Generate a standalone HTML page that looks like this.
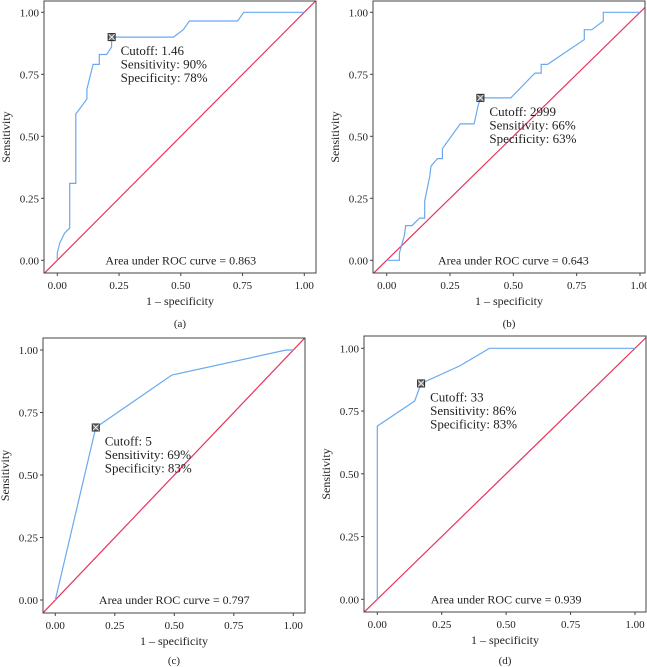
<!DOCTYPE html>
<html><head><meta charset="utf-8"><style>
body{margin:0;background:#fff;}
svg{display:block;font-family:"Liberation Serif",serif;}
</style></head><body>
<svg id="chart" width="647" height="667"></svg>
<script>
const ticks = [0, 0.25, 0.5, 0.75, 1];
const tickLabels = ["0.00", "0.25", "0.50", "0.75", "1.00"];
const panelLabels = ["(a)", "(b)", "(c)", "(d)"];
const aucValues = ["0.863", "0.643", "0.797", "0.939"];
const cutoffs = ["1.46", "2999", "5", "33"];
const sensLabels = ["90%", "66%", "69%", "86%"];
const specLabels = ["78%", "63%", "83%", "83%"];
const rocA_x = [0,0,0.01,0.03,0.05,0.05,0.075,0.075,0.12,0.12,0.145,0.17,0.17,0.2,0.22,0.22,0.47,0.51,0.535,0.73,0.755,1];
const rocA_y = [0,0.03,0.07,0.11,0.13,0.31,0.31,0.59,0.65,0.69,0.79,0.79,0.83,0.83,0.86,0.9,0.9,0.93,0.965,0.965,1,1];
const rocB_x = [0,0.05,0.05,0.07,0.075,0.1,0.13,0.15,0.15,0.17,0.175,0.2,0.22,0.22,0.29,0.345,0.36,0.37,0.49,0.585,0.61,0.61,0.635,0.78,0.78,0.81,0.855,0.855,1];
const rocB_y = [0,0,0.03,0.1,0.14,0.14,0.17,0.17,0.24,0.34,0.38,0.41,0.41,0.45,0.55,0.55,0.62,0.655,0.655,0.755,0.755,0.79,0.79,0.89,0.93,0.93,0.965,1,1];
const rocC_x = [0,0.17,0.49,0.97,1];
const rocC_y = [0,0.69,0.9,1,1];
const rocD_x = [0,0,0.145,0.17,0.32,0.435,1];
const rocD_y = [0,0.69,0.79,0.86,0.93,1,1];
const cutX = [0.22, 0.37, 0.17, 0.17];
const cutY = [0.9, 0.655, 0.69, 0.86];

const layouts = [
 {L:44,R:316,T:1,B:273,x0:57.3,x1:304.3,y0:260.3,y1:12.3,cy:323},
 {L:373,R:645,T:1,B:273,x0:386.7,x1:640,y0:260.3,y1:12.3,cy:323},
 {L:43,R:305,T:338,B:613,x0:55.3,x1:293.3,y0:600,y1:350,cy:660},
 {L:364,R:646,T:336,B:612,x0:377.3,x1:635,y0:599.3,y1:348.3,cy:660}
];
const series = [[rocA_x,rocA_y],[rocB_x,rocB_y],[rocC_x,rocC_y],[rocD_x,rocD_y]];
const NS="http://www.w3.org/2000/svg";
const svg=document.getElementById('chart');
function mk(tag,attrs,parent,txt){const e=document.createElementNS(NS,tag);for(const k in attrs)e.setAttribute(k,attrs[k]);if(txt!==undefined)e.textContent=txt;(parent||svg).appendChild(e);return e;}

layouts.forEach((p,i)=>{
 const sx=v=>p.x0+v*(p.x1-p.x0), sy=v=>p.y0+v*(p.y1-p.y0);
 const g=mk('g',{});
 
 
 const cid='clip'+i;
 const cp=mk('clipPath',{id:cid},g); mk('rect',{x:p.L,y:p.T,width:p.R-p.L,height:p.B-p.T},cp);
 const xmin=(p.L-p.x0)/(p.x1-p.x0), xmax=(p.R-p.x0)/(p.x1-p.x0);
 const diag=mk('line',{x1:sx(xmin),y1:sy(xmin),x2:sx(xmax),y2:sy(xmax),stroke:'#e8345a','stroke-width':1.2,'clip-path':'url(#'+cid+')'},g);
 
 
 const xs=series[i][0], ys=series[i][1];
 const pts=xs.map((x,j)=>sx(x).toFixed(1)+','+sy(ys[j]).toFixed(1)).join(' ');
 const curve=mk('polyline',{points:pts,fill:'none',stroke:'#6aa9ef','stroke-width':1.2},g);
 
 
 const fr=mk('rect',{x:p.L,y:p.T,width:p.R-p.L,height:p.B-p.T,fill:'none',stroke:'#444','stroke-width':1},g);
 
 
 ticks.forEach((t,k)=>{
  mk('line',{x1:sx(t),y1:p.B,x2:sx(t),y2:p.B+3,stroke:'#444'},g);
  const xl=mk('text',{x:sx(t),y:p.B+16,'font-size':11,'text-anchor':'middle',fill:'#222'},g,tickLabels[k]);
  
  
  mk('line',{x1:p.L-3,y1:sy(t),x2:p.L,y2:sy(t),stroke:'#444'},g);
  const yl=mk('text',{x:p.L-5,y:sy(t)+4,'font-size':11,'text-anchor':'end',fill:'#222'},g,tickLabels[k]);
  
  
 });
 const xt=mk('text',{x:(p.L+p.R)/2,y:p.B+32,'font-size':12,'text-anchor':'middle',fill:'#222'},g,'1 – specificity');
 
 
 const ycx=p.L-34, ycy=(p.T+p.B)/2;
 const yt=mk('text',{x:ycx,y:ycy,'font-size':12,'text-anchor':'middle',fill:'#222',transform:'rotate(-90 '+ycx+' '+ycy+')'},g,'Sensitivity');
 
 
 const pl=mk('text',{x:(p.L+p.R)/2,y:p.cy+4,'font-size':11,'text-anchor':'middle',fill:'#222'},g,panelLabels[i]);
 
 
 const cx=sx(cutX[i]), cy=sy(cutY[i]);
 const mg=mk('g',{},g);
 
 
 mk('rect',{x:cx-3.5,y:cy-3.5,width:7,height:7,fill:'#777',stroke:'#222','stroke-width':1},mg);
 mk('path',{d:`M${cx-3} ${cy-3}L${cx+3} ${cy+3}M${cx+3} ${cy-3}L${cx-3} ${cy+3}`,stroke:'#fff','stroke-width':0.8},mg);
 const ann=mk('text',{'font-size':13,fill:'#222'},g);
 
 
 [['Cutoff: '+cutoffs[i],0],['Sensitivity: '+sensLabels[i],13.5],['Specificity: '+specLabels[i],27]].forEach(([s,dy])=>{
  mk('tspan',{x:cx+9,y:cy+18+dy},ann,s);
 });
 const auc=mk('text',{x:sx(0.5),y:sy(0)+4,'font-size':12,'text-anchor':'middle',fill:'#222'},g,'Area under ROC curve = '+aucValues[i]);
 
 
});
</script>
</body></html>
